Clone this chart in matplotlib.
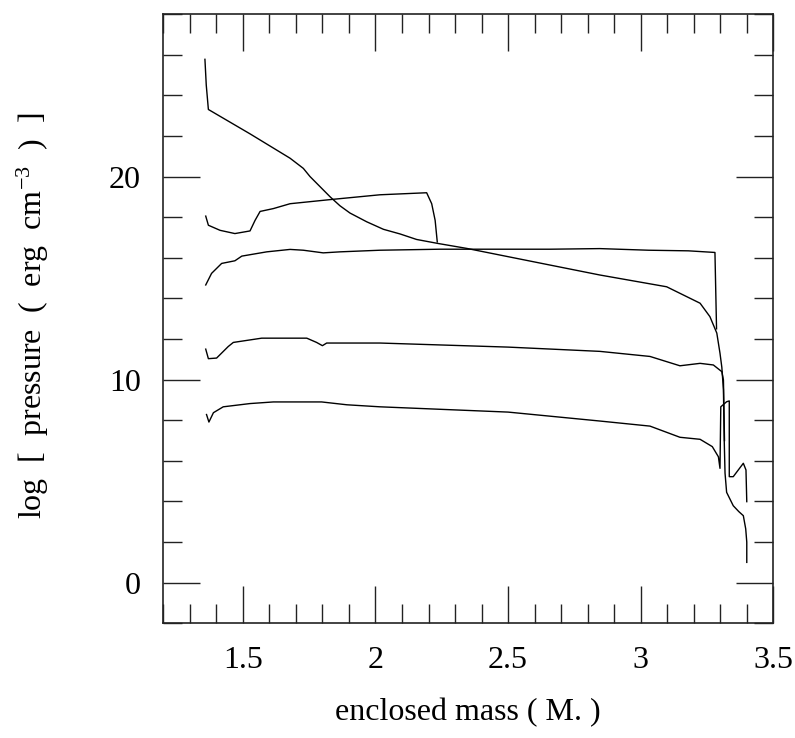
import matplotlib
matplotlib.use("Agg")
import matplotlib.pyplot as plt
from matplotlib.ticker import MultipleLocator

plt.rcParams['font.family'] = ['Liberation Serif', 'DejaVu Serif']
plt.rcParams['mathtext.fontset'] = 'custom'
plt.rcParams['mathtext.rm'] = 'Liberation Serif'
plt.rcParams['mathtext.default'] = 'regular'

# Initial profile (A)
a_x = [1.357, 1.362, 1.370, 1.527, 1.678, 1.728, 1.753, 1.791, 1.829, 1.866, 1.904,
       1.967, 2.03, 2.093, 2.155, 2.237,
       2.344, 2.658, 2.846, 3.098, 3.224, 3.261, 3.287, 3.299, 3.306, 3.312, 3.315,
       3.318, 3.324, 3.349, 3.37, 3.387, 3.396, 3.4, 3.4]
a_y = [25.77, 24.5, 23.3, 22.1, 20.9, 20.4, 20.0, 19.5, 19.0, 18.56, 18.2,
       17.77, 17.4, 17.17, 16.9, 16.7,
       16.46, 15.64, 15.15, 14.57, 13.76, 13.1, 12.29, 11.3, 10.6, 9.5, 7.0,
       5.4, 4.45, 3.79, 3.5, 3.3, 2.65, 2.0, 1.0]

# Shock at ~2.23 (B)
b_x = [1.360, 1.370, 1.414, 1.47, 1.527, 1.546, 1.565, 1.615, 1.678, 1.835, 2.017,
       2.193, 2.212, 2.225, 2.233]
b_y = [18.05, 17.6, 17.35, 17.19, 17.32, 17.84, 18.28, 18.42, 18.66, 18.87, 19.1,
       19.2, 18.66, 17.84, 16.78]

# Shock at ~3.28 (C)
c_x = [1.36, 1.382, 1.42, 1.47, 1.496, 1.59, 1.678, 1.728, 1.803, 1.866, 2.017,
       2.243, 2.658, 2.846, 3.03, 3.18, 3.28, 3.286]
c_y = [14.66, 15.23, 15.72, 15.85, 16.08, 16.29, 16.41, 16.37, 16.24, 16.29, 16.37,
       16.42, 16.42, 16.45, 16.37, 16.34, 16.26, 12.5]

# D
d_x = [1.36, 1.37, 1.401, 1.445, 1.464, 1.571, 1.741, 1.778, 1.80, 1.816, 2.017,
       2.5, 2.846, 3.035, 3.148, 3.224, 3.274, 3.306, 3.312, 3.316]
d_y = [11.5, 11.03, 11.06, 11.63, 11.83, 12.04, 12.04, 11.83, 11.67, 11.8, 11.8,
       11.6, 11.39, 11.14, 10.68, 10.8, 10.72, 10.39, 9.98, 7.0]

# E
e_x = [1.363, 1.372, 1.389, 1.426, 1.527, 1.615, 1.797, 1.892, 2.017, 2.5, 2.846,
       3.035, 3.148, 3.224, 3.27, 3.293, 3.299, 3.302, 3.324, 3.334, 3.334, 3.349,
       3.387, 3.397, 3.4]
e_y = [8.28, 7.91, 8.37, 8.66, 8.82, 8.9, 8.9, 8.76, 8.66, 8.4, 7.96,
       7.71, 7.16, 7.06, 6.70, 6.2, 5.63, 8.66, 8.91, 8.95, 5.22, 5.22,
       5.88, 5.55, 3.99]

x_ticks = [1.5, 2, 2.5, 3, 3.5]
x_tick_labels = ['1.5', '2', '2.5', '3', '3.5']
y_ticks = [0, 10, 20]
y_tick_labels = ['0', '10', '20']

fig = plt.figure(figsize=(7.95, 7.38), dpi=100)
ax = fig.add_axes([0.2054, 0.1554, 0.7673, 0.8256])

for xs, ys in [(a_x, a_y), (b_x, b_y), (c_x, c_y), (d_x, d_y), (e_x, e_y)]:
    ax.plot(xs, ys, color='black', lw=1.0)

ax.set_xlim(1.2, 3.5)
ax.set_ylim(-2, 28)
ax.set_xticks(x_ticks)
ax.set_xticklabels(x_tick_labels)
ax.set_yticks(y_ticks)
ax.set_yticklabels(y_tick_labels)
ax.xaxis.set_minor_locator(MultipleLocator(0.1))
ax.yaxis.set_minor_locator(MultipleLocator(2))

ax.tick_params(which='both', direction='in', top=True, right=True,
               width=1.0, color='#222222', labelsize=23, pad=16)
ax.tick_params(which='major', length=26.5)
ax.tick_params(which='minor', length=13.7)
for s in ax.spines.values():
    s.set_linewidth(1.2)
    s.set_color('#222222')

ax.set_xlabel('enclosed mass ( M. )', fontsize=23)
ax.set_ylabel('log  [  pressure  (  erg  cm$^{-3}$  )  ]', fontsize=23)
ax.xaxis.set_label_coords(0.5, -0.1226)
ax.yaxis.set_label_coords(-0.184, 0.505)

fig.savefig('out.png', dpi=100)
